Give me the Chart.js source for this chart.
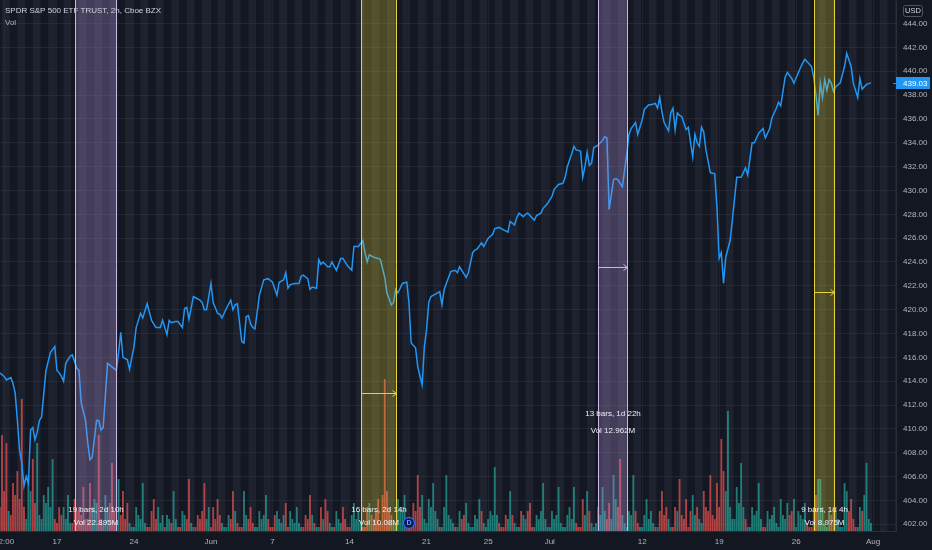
<!DOCTYPE html>
<html><head><meta charset="utf-8">
<script src="https://cdn.jsdelivr.net/npm/chart.js@4.4.1/dist/chart.umd.min.js"></script>
<style>html,body{margin:0;padding:0;background:#131722;overflow:hidden}#wrap{width:932px;height:550px;position:relative}canvas{display:block}</style>
</head><body><div id="wrap"><canvas id="c"></canvas></div>
<script>
// ---- DATA ----
// 2h bars, 7 bars per trading day; bar 0 = first bar of 11 May 2021
const priceBar = [2,4,5,7,8,9,10,11,12,13,14,15,16,17,18,19,20,21,23,25,27,28,29,30,31,32,34,35,37,38,39,41,42,43,44,46,47,48,49,51,53,55,56,57,58,60,61,63,64,66,67,69,71,73,75,76,78,79,80,82,83,85,86,87,88,90,91,93,94,95,96,98,99,101,102,103,105,107,108,109,110,112,113,114,115,116,117,118,120,122,124,126,128,129,131,132,133,134,136,138,139,140,142,143,144,146,147,148,149,151,152,153,155,157,158,160,162,163,165,167,168,169,170,172,174,175,177,178,180,181,182,183,185,187,188,189,191,192,194,195,196,197,198,200,202,203,204,205,207,209,210,211,212,214,215,217,218,219,221,222,224,226,227,229,231,233,234,236,237,238,240,241,242,244,245,246,248,249,251,253,254,256,258,259,260,262,263,264,266,267,268,269,270,271,272,274,276,277,278,279,281,282,283,284,285,287,288,289,291,292,294,295,297,298,300,301,302,303,304,306,307,308,309,310,311,312,314,315,317,318,319,320,321,322,323,325,327,328,329,330,331,332,334,335,337,339,341,342,344,345,347,349,350,352,353,355,356,357,359,360,362,363,365,367,368,369,371,372,373,374,375,376,377,378,379,380,381,382,384,386,387,389,390,392,393,394,396,398];
const priceClose = [414.7,414.4,414.1,414.3,413.8,413.0,410.7,408.2,407.1,405.2,406.0,405.4,409.9,410.1,409.1,409.7,410.7,411.0,414.9,416.4,416.9,414.9,414.7,414.4,414.0,415.5,416.1,416.2,415.1,414.9,412.2,410.7,408.8,407.4,407.6,410.7,410.7,409.9,410.1,415.5,415.2,414.9,416.4,418.1,416.0,415.8,415.0,416.9,418.5,419.7,419.3,420.5,419.1,418.5,418.5,419.1,417.9,419.1,418.9,419.0,419.0,418.5,420.1,420.2,419.2,421.1,421.0,420.8,420.6,420.0,420.0,422.2,420.6,419.7,419.6,419.3,420.1,420.8,420.0,420.4,420.5,417.3,417.2,419.4,419.5,418.8,418.5,418.4,421.2,422.5,422.6,422.3,421.2,422.3,422.5,423.1,421.8,422.1,422.2,422.2,422.8,422.9,422.6,421.7,421.9,421.8,424.2,423.8,424.0,423.6,423.6,424.0,423.3,424.3,424.3,423.7,423.3,425.3,425.3,425.8,424.8,424.0,424.6,424.4,424.3,424.2,422.7,421.4,420.4,420.6,421.7,421.4,422.2,422.3,420.6,417.2,416.8,415.2,413.7,416.9,418.3,420.6,421.1,421.3,421.5,420.4,421.7,422.2,423.2,423.3,423.1,423.6,423.3,422.7,423.1,424.8,425.0,425.1,425.6,425.3,426.0,426.3,426.8,426.9,426.7,426.5,427.4,427.1,427.7,428.1,427.8,428.0,428.1,427.7,427.5,427.9,428.1,428.5,428.9,429.5,430.1,430.5,430.6,431.1,432.0,433.1,433.7,433.4,433.3,431.1,432.0,433.2,432.1,432.3,433.6,433.8,434.2,434.5,434.4,428.4,430.9,431.0,430.9,430.6,430.3,433.0,434.7,435.2,435.7,434.7,435.9,436.8,437.2,437.2,437.3,436.9,437.8,436.6,435.7,435.0,436.5,436.9,435.1,436.5,436.3,436.2,435.1,435.3,432.8,434.7,434.0,433.7,435.3,434.9,433.4,431.5,431.4,428.6,424.3,424.8,422.2,424.4,425.8,427.5,431.1,431.1,431.9,431.3,434.0,434.0,434.8,435.2,434.4,435.2,436.1,436.9,437.4,437.1,439.5,439.9,439.4,439.0,439.9,440.7,441.0,440.8,440.4,439.5,438.0,436.3,439.0,437.8,439.3,438.4,439.3,439.0,438.3,438.7,439.0,440.4,441.5,440.4,439.0,437.8,439.4,438.5,438.9,439.03];
// volume per bar in millions, starting at bar volStart
const volStart = 2;
const volume = [
0.6,2.4,1.0,2.2,0.5,
0.4,1.2,0.9,1.5,0.8,3.3,0.6, 0.3,1.4,1.0,1.8,0.7,2.2,0.4, 0.3,0.9,0.7,1.1,0.6,1.8,0.3,
0.2,0.6,0.4,0.6,0.3,0.9,0.2, 0.2,0.8,0.5,0.6,0.4,1.1,0.3, 0.3,1.2,0.6,0.8,0.7,2.4,0.3, 0.2,0.9,0.6,0.7,1.7,0.5,0.2, 1.3,0.4,1.0,0.3,0.7,0.2,0.1,
0.1,0.6,0.4,0.3,1.2,0.2,0.1, 0.1,0.5,0.8,0.3,0.6,0.2,0.4, 0.1,0.4,0.3,0.2,1.0,0.3,0.1, 0.1,0.5,0.4,0.3,1.3,0.2,0.1, 0.1,0.4,0.3,0.5,1.2,0.3,0.6,
0.1,0.6,0.3,0.8,0.4,0.2,0.1, 0.1,0.4,0.3,1.0,0.5,0.2,0.1, 0.1,1.0,0.4,0.3,0.6,0.2,0.1, 0.1,0.5,0.3,0.4,0.9,0.3,0.1,
0.1,0.4,0.5,0.3,0.2,0.4,0.7, 0.1,0.5,0.3,0.2,0.6,0.2,0.1, 0.1,0.4,0.3,0.9,0.4,0.2,0.1, 0.1,0.6,0.3,0.8,0.5,0.2,0.1, 0.1,0.5,0.3,0.2,0.6,0.3,0.1,
0.1,0.4,0.7,0.3,0.5,0.2,0.1, 0.1,0.6,0.7,0.4,0.3,0.5,0.8, 0.2,0.9,3.8,1.0,0.6,0.4,0.2, 0.2,0.8,0.6,0.5,0.9,0.3,0.1, 0.2,0.7,0.5,1.4,0.6,0.9,0.3,
0.2,0.8,0.6,1.2,0.5,0.3,0.1, 0.1,0.6,1.4,0.4,0.3,0.2,0.1, 0.1,0.5,0.3,0.4,0.7,0.2,0.1, 0.1,0.4,0.3,0.8,0.5,0.2,0.1, 0.3,0.5,0.4,1.6,0.4,0.2,0.1,
0.1,0.4,0.3,1.0,0.4,0.2,0.1, 0.1,0.5,0.4,0.3,0.5,0.7,0.1, 0.1,0.4,0.3,0.5,1.2,0.3,0.1, 0.1,0.5,0.3,0.4,1.1,0.2,0.1, 0.1,0.4,0.6,0.3,1.1,0.2,0.1,
0.1,0.8,0.4,1.0,0.5,0.2,0.1, 0.2,0.6,0.4,1.1,0.5,0.3,0.7, 0.3,1.4,0.8,0.6,1.8,0.4,0.2, 0.1,0.5,0.4,1.4,0.5,0.2,0.1,
0.1,0.4,0.8,0.3,0.5,0.2,0.1, 0.1,0.5,1.0,0.4,0.6,0.3,0.1, 0.1,0.6,0.5,1.3,0.4,0.3,0.8, 0.1,0.5,0.9,0.4,0.6,0.3,0.2, 1.0,0.6,0.5,1.4,0.4,0.3,1.2,
0.6,2.3,1.5,1.0,3.0,0.6,0.3, 0.3,1.1,0.7,1.7,0.6,0.3,0.1, 0.1,0.6,0.4,0.5,1.2,0.3,0.1, 0.1,0.5,0.3,0.4,0.6,0.2,0.1, 0.8,0.4,0.3,0.7,0.4,0.5,0.8,
0.1,0.5,0.4,0.3,0.7,0.2,0.1, 0.1,0.6,0.9,1.3,1.3,0.6,0.2, 0.1,0.5,0.4,0.6,0.5,0.3,0.1, 0.1,1.2,1.0,0.5,0.8,0.3,0.1, 0.1,0.6,0.5,0.9,1.7,0.3,0.2];
const tickBar  = [4,28,63,98,126,161,196,224,252,294,329,364,399];
const tickText = ['12:00','17','24','Jun','7','14','21','25','Jul','12','19','26','Aug'];
const yTicks = [402,404,406,408,410,412,414,416,418,420,422,424,426,428,430,432,434,436,438,440,442,444];
const rangeStart = [36,166,274,372];
const rangeEnd   = [55,182,287,381];
const rangeBarsText = ['19 bars, 2d 10h','16 bars, 2d 14h','13 bars, 1d 22h','9 bars, 1d 4h'];
const rangeVolText  = ['Vol 22.895M','Vol 10.08M','Vol 12.962M','Vol 8.975M'];
const rangeArrowPrice = [null,413.0,423.6,421.5];
const lastPrice = 439.03;
const dividendBar = 188;
const titleText = 'SPDR S&P 500 ETF TRUST, 2h, Cboe BZX';

// ---- STYLE ----
const BG = '#131722';
const FONT = '"Liberation Sans", Arial, sans-serif';
const rangeStyle = [
  {fill:'rgba(179,150,219,0.30)', line:'#c9b8e8'},
  {fill:'rgba(240,222,50,0.26)', line:'#e6d23a'},
  {fill:'rgba(179,150,219,0.30)', line:'#c9b8e8'},
  {fill:'rgba(240,222,50,0.26)', line:'#e6d23a'}];
const labelOffsets = [[21,8],[21,8],[117,100],[21,8]]; // px above chart bottom for the two label lines

function priceAt(b){
  if (b <= priceBar[0]) return priceClose[0];
  for (let k=1;k<priceBar.length;k++){
    if (b <= priceBar[k]){
      const t=(b-priceBar[k-1])/(priceBar[k]-priceBar[k-1]);
      return priceClose[k-1]+t*(priceClose[k]-priceClose[k-1]);
    }
  }
  return priceClose[priceClose.length-1];
}
const volPoints = volume.map((v,k)=>({x:volStart+k,y:v}));
const volColors = volume.map((v,k)=>{const b=volStart+k; return priceAt(b+0.5)>=priceAt(b-0.5)?'rgba(38,166,154,0.7)':'rgba(239,83,80,0.7)';});
const pricePoints = priceBar.map((b,k)=>({x:b,y:priceClose[k]}));

const deco = {
  id:'deco',
  beforeDraw(chart){
    const ctx=chart.ctx, a=chart.chartArea, xs=chart.scales.x;
    ctx.save();
    ctx.fillStyle=BG; ctx.fillRect(0,0,chart.width,chart.height);
    ctx.beginPath(); ctx.rect(a.left,a.top,a.right-a.left,a.bottom-a.top); ctx.clip();
    ctx.fillStyle='rgba(130,135,165,0.10)';
    for(let d=0; d<60; d++){
      const x1=xs.getPixelForValue(7*d+3.0), x2=xs.getPixelForValue(7*d+6.5);
      ctx.fillRect(x1,a.top,x2-x1,a.bottom-a.top);
    }
    ctx.restore();
  },
  afterDatasetsDraw(chart){
    const ctx=chart.ctx, a=chart.chartArea, xs=chart.scales.x, ys=chart.scales.y;
    ctx.save();
    ctx.beginPath(); ctx.rect(a.left,a.top,a.right-a.left,a.bottom-a.top); ctx.clip();
    for(let i=0;i<rangeStart.length;i++){
      const x1=Math.round(xs.getPixelForValue(rangeStart[i]))+0.5, x2=Math.round(xs.getPixelForValue(rangeEnd[i]))+0.5;
      const st=rangeStyle[i];
      ctx.fillStyle=st.fill; ctx.fillRect(x1,a.top,x2-x1,a.bottom-a.top);
      ctx.strokeStyle=st.line; ctx.lineWidth=1;
      ctx.beginPath(); ctx.moveTo(x1,a.top); ctx.lineTo(x1,a.bottom); ctx.moveTo(x2,a.top); ctx.lineTo(x2,a.bottom); ctx.stroke();
      if(rangeArrowPrice[i]!==null){
        const y=Math.round(ys.getPixelForValue(rangeArrowPrice[i]))+0.5;
        ctx.beginPath(); ctx.moveTo(x1,y); ctx.lineTo(x2,y);
        ctx.moveTo(x2-4,y-3); ctx.lineTo(x2,y); ctx.lineTo(x2-4,y+3); ctx.stroke();
      }
      const cx=(x1+x2)/2;
      ctx.fillStyle='#eceff5'; ctx.font='8px '+FONT; ctx.textAlign='center'; ctx.textBaseline='middle';
      ctx.fillText(rangeBarsText[i],cx,a.bottom-labelOffsets[i][0]);
      ctx.fillText(rangeVolText[i],cx,a.bottom-labelOffsets[i][1]);
    }
    // dividend marker
    const dx=xs.getPixelForValue(dividendBar), dy=a.bottom-8;
    ctx.beginPath(); ctx.arc(dx,dy,5.5,0,Math.PI*2); ctx.fillStyle='#0d1b4a'; ctx.fill();
    ctx.lineWidth=1.3; ctx.strokeStyle='#2962ff'; ctx.stroke();
    ctx.fillStyle='#6f9bff'; ctx.font='bold 7px '+FONT; ctx.textAlign='center'; ctx.textBaseline='middle';
    ctx.fillText('D',dx,dy+0.5);
    ctx.restore();
  },
  afterDraw(chart){
    const ctx=chart.ctx, a=chart.chartArea, ys=chart.scales.y;
    ctx.save();
    ctx.textAlign='left'; ctx.textBaseline='middle';
    ctx.font='8px '+FONT; ctx.fillStyle='#d1d4dc'; ctx.fillText(titleText,5,11);
    ctx.fillStyle='#b2b5be'; ctx.fillText('Vol',5,22.5);
    // USD badge
    ctx.strokeStyle='#50535e'; ctx.lineWidth=1;
    ctx.beginPath(); ctx.roundRect(903.5,5.5,19,11,2); ctx.stroke();
    ctx.fillStyle='#d1d4dc'; ctx.font='7.5px '+FONT; ctx.textAlign='center';
    ctx.fillText('USD',913,11.2);
    // last price label
    const py=ys.getPixelForValue(lastPrice);
    ctx.fillStyle='#2196f3';
    ctx.fillRect(a.right,Math.round(py)-6,34,12);
    ctx.fillRect(a.right-3,Math.round(py),3,1);
    ctx.fillStyle='#ffffff'; ctx.font='8px '+FONT; ctx.textAlign='left';
    ctx.fillText(lastPrice.toFixed(2),a.right+7,py+0.5);
    ctx.restore();
  }
};

new Chart(document.getElementById('c'),{
  type:'line',
  data:{datasets:[
    {type:'line',data:pricePoints,yAxisID:'y',borderColor:'#2196f3',borderWidth:1.5,pointRadius:0,tension:0,order:0},
    {type:'bar',data:volPoints,yAxisID:'yVol',backgroundColor:volColors,borderWidth:0,barPercentage:0.85,categoryPercentage:1,order:1}
  ]},
  options:{
    responsive:true,maintainAspectRatio:false,animation:false,
    layout:{padding:0},
    plugins:{legend:{display:false},tooltip:{enabled:false}},
    events:[],
    scales:{
      x:{type:'linear',min:2.1,max:409.4,position:'bottom',offset:false,
        afterBuildTicks:(s)=>{s.ticks=tickBar.map(v=>({value:v}));},
        afterFit:(s)=>{s.height=19;s.paddingLeft=0;s.paddingRight=0;s.paddingTop=0;s.paddingBottom=0;},
        ticks:{autoSkip:false,maxRotation:0,padding:6,color:'#b2b5be',font:{family:FONT,size:8},
          callback:(v)=>{const i=tickBar.indexOf(v);return i>=0?tickText[i]:'';}},
        grid:{color:'rgba(54,58,72,0.35)',drawTicks:false,offset:false},
        border:{color:'#2a2e39'}},
      y:{type:'linear',position:'right',min:401.43,max:445.98,offset:false,
        afterBuildTicks:(s)=>{s.ticks=yTicks.map(v=>({value:v}));},
        afterFit:(s)=>{s.width=36;s.paddingTop=0;s.paddingBottom=0;s.paddingLeft=0;s.paddingRight=0;},
        ticks:{autoSkip:false,padding:7,color:'#b2b5be',font:{family:FONT,size:8},callback:(v)=>Number(v).toFixed(2)},
        grid:{color:'rgba(54,58,72,0.45)',drawTicks:false},
        border:{color:'#2a2e39'}},
      yVol:{type:'linear',display:false,min:0,max:13.275,offset:false}
    }
  },
  plugins:[deco]
});
</script></body></html>
